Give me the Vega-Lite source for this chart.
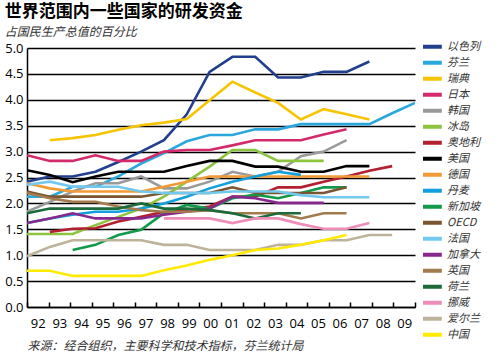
{
"$schema": "https://vega.github.io/schema/vega-lite/v6.json",
"width": 388, "height": 259,
"autosize": {"type": "none"},
"padding": {"left": 27, "top": 48, "right": 85, "bottom": 49},
"background": "white",
"title": {"text": "世界范围内一些国家的研发资金", "subtitle": "占国民生产总值的百分比", "anchor": "start", "frame": "bounds", "font": "Noto Sans CJK SC", "fontSize": 17, "fontWeight": "bold", "color": "black", "subtitleFont": "Noto Sans CJK SC", "subtitleFontSize": 12, "subtitleFontStyle": "italic", "subtitleColor": "#333", "subtitlePadding": 6, "offset": 0},
"config": {"view": {"stroke": null}},
"layer": [
{
"data": {"values": [
{"country":"以色列","year":1992,"value":2.42},{"country":"以色列","year":1993,"value":2.52},{"country":"以色列","year":1994,"value":2.52},{"country":"以色列","year":1995,"value":2.61},{"country":"以色列","year":1996,"value":2.8},{"country":"以色列","year":1997,"value":3.0},{"country":"以色列","year":1998,"value":3.22},{"country":"以色列","year":1999,"value":3.72},{"country":"以色列","year":2000,"value":4.54},{"country":"以色列","year":2001,"value":4.83},{"country":"以色列","year":2002,"value":4.83},{"country":"以色列","year":2003,"value":4.43},{"country":"以色列","year":2004,"value":4.43},{"country":"以色列","year":2005,"value":4.54},{"country":"以色列","year":2006,"value":4.54},{"country":"以色列","year":2007,"value":4.74},
{"country":"芬兰","year":1992,"value":2.13},{"country":"芬兰","year":1993,"value":2.13},{"country":"芬兰","year":1994,"value":2.32},{"country":"芬兰","year":1995,"value":2.32},{"country":"芬兰","year":1996,"value":2.52},{"country":"芬兰","year":1997,"value":2.77},{"country":"芬兰","year":1998,"value":2.97},{"country":"芬兰","year":1999,"value":3.2},{"country":"芬兰","year":2000,"value":3.32},{"country":"芬兰","year":2001,"value":3.32},{"country":"芬兰","year":2002,"value":3.43},{"country":"芬兰","year":2003,"value":3.43},{"country":"芬兰","year":2004,"value":3.53},{"country":"芬兰","year":2005,"value":3.53},{"country":"芬兰","year":2006,"value":3.53},{"country":"芬兰","year":2007,"value":3.53},{"country":"芬兰","year":2008,"value":3.74},{"country":"芬兰","year":2009,"value":3.94},
{"country":"瑞典","year":1993,"value":3.22},{"country":"瑞典","year":1994,"value":3.26},{"country":"瑞典","year":1995,"value":3.32},{"country":"瑞典","year":1996,"value":3.42},{"country":"瑞典","year":1997,"value":3.51},{"country":"瑞典","year":1998,"value":3.56},{"country":"瑞典","year":1999,"value":3.63},{"country":"瑞典","year":2000,"value":3.99},{"country":"瑞典","year":2001,"value":4.35},{"country":"瑞典","year":2002,"value":4.14},{"country":"瑞典","year":2003,"value":3.94},{"country":"瑞典","year":2004,"value":3.62},{"country":"瑞典","year":2005,"value":3.82},{"country":"瑞典","year":2006,"value":3.72},{"country":"瑞典","year":2007,"value":3.62},
{"country":"日本","year":1992,"value":2.93},{"country":"日本","year":1993,"value":2.82},{"country":"日本","year":1994,"value":2.82},{"country":"日本","year":1995,"value":2.93},{"country":"日本","year":1996,"value":2.82},{"country":"日本","year":1997,"value":2.82},{"country":"日本","year":1998,"value":3.0},{"country":"日本","year":1999,"value":3.03},{"country":"日本","year":2000,"value":3.03},{"country":"日本","year":2001,"value":3.12},{"country":"日本","year":2002,"value":3.22},{"country":"日本","year":2003,"value":3.22},{"country":"日本","year":2004,"value":3.22},{"country":"日本","year":2005,"value":3.33},{"country":"日本","year":2006,"value":3.43},
{"country":"韩国","year":1992,"value":1.84},{"country":"韩国","year":1993,"value":2.03},{"country":"韩国","year":1994,"value":2.23},{"country":"韩国","year":1995,"value":2.39},{"country":"韩国","year":1996,"value":2.39},{"country":"韩国","year":1997,"value":2.52},{"country":"韩国","year":1998,"value":2.29},{"country":"韩国","year":1999,"value":2.29},{"country":"韩国","year":2000,"value":2.42},{"country":"韩国","year":2001,"value":2.61},{"country":"韩国","year":2002,"value":2.52},{"country":"韩国","year":2003,"value":2.61},{"country":"韩国","year":2004,"value":2.91},{"country":"韩国","year":2005,"value":3.0},{"country":"韩国","year":2006,"value":3.22},
{"country":"冰岛","year":1992,"value":1.41},{"country":"冰岛","year":1993,"value":1.41},{"country":"冰岛","year":1994,"value":1.41},{"country":"冰岛","year":1995,"value":1.58},{"country":"冰岛","year":1996,"value":1.74},{"country":"冰岛","year":1997,"value":1.9},{"country":"冰岛","year":1998,"value":2.13},{"country":"冰岛","year":1999,"value":2.42},{"country":"冰岛","year":2000,"value":2.71},{"country":"冰岛","year":2001,"value":3.03},{"country":"冰岛","year":2002,"value":3.03},{"country":"冰岛","year":2003,"value":2.82},{"country":"冰岛","year":2004,"value":2.82},{"country":"冰岛","year":2005,"value":2.82},
{"country":"奥地利","year":1993,"value":1.45},{"country":"奥地利","year":1994,"value":1.51},{"country":"奥地利","year":1995,"value":1.52},{"country":"奥地利","year":1996,"value":1.65},{"country":"奥地利","year":1997,"value":1.74},{"country":"奥地利","year":1998,"value":1.84},{"country":"奥地利","year":1999,"value":1.87},{"country":"奥地利","year":2000,"value":1.94},{"country":"奥地利","year":2001,"value":2.13},{"country":"奥地利","year":2002,"value":2.13},{"country":"奥地利","year":2003,"value":2.31},{"country":"奥地利","year":2004,"value":2.31},{"country":"奥地利","year":2005,"value":2.42},{"country":"奥地利","year":2006,"value":2.52},{"country":"奥地利","year":2007,"value":2.63},{"country":"奥地利","year":2008,"value":2.72},
{"country":"美国","year":1992,"value":2.64},{"country":"美国","year":1993,"value":2.55},{"country":"美国","year":1994,"value":2.41},{"country":"美国","year":1995,"value":2.52},{"country":"美国","year":1996,"value":2.61},{"country":"美国","year":1997,"value":2.61},{"country":"美国","year":1998,"value":2.61},{"country":"美国","year":1999,"value":2.72},{"country":"美国","year":2000,"value":2.82},{"country":"美国","year":2001,"value":2.82},{"country":"美国","year":2002,"value":2.71},{"country":"美国","year":2003,"value":2.71},{"country":"美国","year":2004,"value":2.61},{"country":"美国","year":2005,"value":2.61},{"country":"美国","year":2006,"value":2.72},{"country":"美国","year":2007,"value":2.72},
{"country":"德国","year":1992,"value":2.39},{"country":"德国","year":1993,"value":2.29},{"country":"德国","year":1994,"value":2.23},{"country":"德国","year":1995,"value":2.23},{"country":"德国","year":1996,"value":2.23},{"country":"德国","year":1997,"value":2.23},{"country":"德国","year":1998,"value":2.32},{"country":"德国","year":1999,"value":2.42},{"country":"德国","year":2000,"value":2.52},{"country":"德国","year":2001,"value":2.52},{"country":"德国","year":2002,"value":2.52},{"country":"德国","year":2003,"value":2.52},{"country":"德国","year":2004,"value":2.52},{"country":"德国","year":2005,"value":2.52},{"country":"德国","year":2006,"value":2.52},{"country":"德国","year":2007,"value":2.52},
{"country":"丹麦","year":1992,"value":1.62},{"country":"丹麦","year":1993,"value":1.71},{"country":"丹麦","year":1994,"value":1.78},{"country":"丹麦","year":1995,"value":1.84},{"country":"丹麦","year":1996,"value":1.84},{"country":"丹麦","year":1997,"value":1.9},{"country":"丹麦","year":1998,"value":2.0},{"country":"丹麦","year":1999,"value":2.13},{"country":"丹麦","year":2000,"value":2.29},{"country":"丹麦","year":2001,"value":2.42},{"country":"丹麦","year":2002,"value":2.52},{"country":"丹麦","year":2003,"value":2.61},{"country":"丹麦","year":2004,"value":2.55},
{"country":"新加坡","year":1994,"value":1.1},{"country":"新加坡","year":1995,"value":1.2},{"country":"新加坡","year":1996,"value":1.39},{"country":"新加坡","year":1997,"value":1.49},{"country":"新加坡","year":1998,"value":1.81},{"country":"新加坡","year":1999,"value":1.97},{"country":"新加坡","year":2000,"value":1.9},{"country":"新加坡","year":2001,"value":2.1},{"country":"新加坡","year":2002,"value":2.17},{"country":"新加坡","year":2003,"value":2.1},{"country":"新加坡","year":2004,"value":2.2},{"country":"新加坡","year":2005,"value":2.31},{"country":"新加坡","year":2006,"value":2.31},
{"country":"OECD","year":1992,"value":2.23},{"country":"OECD","year":1993,"value":2.13},{"country":"OECD","year":1994,"value":2.13},{"country":"OECD","year":1995,"value":2.13},{"country":"OECD","year":1996,"value":2.13},{"country":"OECD","year":1997,"value":2.13},{"country":"OECD","year":1998,"value":2.2},{"country":"OECD","year":1999,"value":2.2},{"country":"OECD","year":2000,"value":2.2},{"country":"OECD","year":2001,"value":2.31},{"country":"OECD","year":2002,"value":2.2},{"country":"OECD","year":2003,"value":2.2},{"country":"OECD","year":2004,"value":2.2},{"country":"OECD","year":2005,"value":2.2},{"country":"OECD","year":2006,"value":2.31},
{"country":"法国","year":1992,"value":2.36},{"country":"法国","year":1993,"value":2.42},{"country":"法国","year":1994,"value":2.32},{"country":"法国","year":1995,"value":2.32},{"country":"法国","year":1996,"value":2.32},{"country":"法国","year":1997,"value":2.23},{"country":"法国","year":1998,"value":2.2},{"country":"法国","year":1999,"value":2.2},{"country":"法国","year":2000,"value":2.2},{"country":"法国","year":2001,"value":2.23},{"country":"法国","year":2002,"value":2.23},{"country":"法国","year":2003,"value":2.23},{"country":"法国","year":2004,"value":2.16},{"country":"法国","year":2005,"value":2.12},{"country":"法国","year":2006,"value":2.12},{"country":"法国","year":2007,"value":2.12},
{"country":"加拿大","year":1992,"value":1.62},{"country":"加拿大","year":1993,"value":1.71},{"country":"加拿大","year":1994,"value":1.81},{"country":"加拿大","year":1995,"value":1.71},{"country":"加拿大","year":1996,"value":1.71},{"country":"加拿大","year":1997,"value":1.71},{"country":"加拿大","year":1998,"value":1.78},{"country":"加拿大","year":1999,"value":1.84},{"country":"加拿大","year":2000,"value":1.9},{"country":"加拿大","year":2001,"value":2.13},{"country":"加拿大","year":2002,"value":2.1},{"country":"加拿大","year":2003,"value":2.01},{"country":"加拿大","year":2004,"value":2.01},{"country":"加拿大","year":2005,"value":2.01},
{"country":"英国","year":1992,"value":2.2},{"country":"英国","year":1993,"value":2.1},{"country":"英国","year":1994,"value":2.03},{"country":"英国","year":1995,"value":2.03},{"country":"英国","year":1996,"value":1.94},{"country":"英国","year":1997,"value":1.87},{"country":"英国","year":1998,"value":1.84},{"country":"英国","year":1999,"value":1.84},{"country":"英国","year":2000,"value":1.87},{"country":"英国","year":2001,"value":1.81},{"country":"英国","year":2002,"value":1.81},{"country":"英国","year":2003,"value":1.81},{"country":"英国","year":2004,"value":1.71},{"country":"英国","year":2005,"value":1.81},{"country":"英国","year":2006,"value":1.81},
{"country":"荷兰","year":1992,"value":1.81},{"country":"荷兰","year":1993,"value":1.9},{"country":"荷兰","year":1994,"value":1.9},{"country":"荷兰","year":1995,"value":1.9},{"country":"荷兰","year":1996,"value":1.9},{"country":"荷兰","year":1997,"value":2.0},{"country":"荷兰","year":1998,"value":1.9},{"country":"荷兰","year":1999,"value":1.9},{"country":"荷兰","year":2000,"value":1.87},{"country":"荷兰","year":2001,"value":1.81},{"country":"荷兰","year":2002,"value":1.71},{"country":"荷兰","year":2003,"value":1.81},{"country":"荷兰","year":2004,"value":1.81},
{"country":"挪威","year":1998,"value":1.71},{"country":"挪威","year":1999,"value":1.71},{"country":"挪威","year":2000,"value":1.71},{"country":"挪威","year":2001,"value":1.62},{"country":"挪威","year":2002,"value":1.71},{"country":"挪威","year":2003,"value":1.71},{"country":"挪威","year":2004,"value":1.6},{"country":"挪威","year":2005,"value":1.51},{"country":"挪威","year":2006,"value":1.51},{"country":"挪威","year":2007,"value":1.62},
{"country":"爱尔兰","year":1992,"value":0.98},{"country":"爱尔兰","year":1993,"value":1.16},{"country":"爱尔兰","year":1994,"value":1.29},{"country":"爱尔兰","year":1995,"value":1.29},{"country":"爱尔兰","year":1996,"value":1.29},{"country":"爱尔兰","year":1997,"value":1.29},{"country":"爱尔兰","year":1998,"value":1.2},{"country":"爱尔兰","year":1999,"value":1.2},{"country":"爱尔兰","year":2000,"value":1.1},{"country":"爱尔兰","year":2001,"value":1.1},{"country":"爱尔兰","year":2002,"value":1.1},{"country":"爱尔兰","year":2003,"value":1.2},{"country":"爱尔兰","year":2004,"value":1.2},{"country":"爱尔兰","year":2005,"value":1.29},{"country":"爱尔兰","year":2006,"value":1.29},{"country":"爱尔兰","year":2007,"value":1.39},{"country":"爱尔兰","year":2008,"value":1.39},
{"country":"中国","year":1992,"value":0.7},{"country":"中国","year":1993,"value":0.7},{"country":"中国","year":1994,"value":0.6},{"country":"中国","year":1995,"value":0.6},{"country":"中国","year":1996,"value":0.6},{"country":"中国","year":1997,"value":0.6},{"country":"中国","year":1998,"value":0.71},{"country":"中国","year":1999,"value":0.8},{"country":"中国","year":2000,"value":0.91},{"country":"中国","year":2001,"value":1.0},{"country":"中国","year":2002,"value":1.1},{"country":"中国","year":2003,"value":1.13},{"country":"中国","year":2004,"value":1.2},{"country":"中国","year":2005,"value":1.29},{"country":"中国","year":2006,"value":1.39}
]},
"mark": {"type": "line", "strokeWidth": 2.6, "clip": true},
"encoding": {
"x": {"field": "year", "type": "quantitative", "scale": {"domain": [1992, 2009], "nice": false, "zero": false}, "axis": null},
"y": {"field": "value", "type": "quantitative", "scale": {"domain": [0, 5], "nice": false}, "axis": {"values": [0,0.5,1,1.5,2,2.5,3,3.5,4,4.5,5], "format": ".1f", "title": null, "grid": true, "gridColor": "black", "gridWidth": 1.3, "gridOpacity": 1, "ticks": false, "domain": true, "domainColor": "black", "domainWidth": 1.5, "labelFont": "Open Sans", "labelFontSize": 13, "labelColor": "black", "labelPadding": 4}},
"color": {"field": "country", "type": "nominal", "scale": {"domain": ["以色列","芬兰","瑞典","日本","韩国","冰岛","奥地利","美国","德国","丹麦","新加坡","OECD","法国","加拿大","英国","荷兰","挪威","爱尔兰","中国"], "range": ["#223F8E","#2AA7DF","#F6C400","#D42A6B","#9A9A9A","#8CC43F","#B3202F","#000000","#F29A35","#119FDD","#109A4A","#7A5630","#73C8EE","#88288D","#A37A4C","#1A6A3A","#EE8DBA","#BDB39B","#FFEA00"]},
"legend": {"title": null, "orient": "none", "legendX": 396, "legendY": -9, "symbolType": "M-1.4,0H1.4", "symbolStrokeWidth": 4, "symbolSize": 196, "labelFont": "Noto Sans CJK SC", "labelFontSize": 11, "labelFontStyle": "italic", "labelColor": "#333", "labelOffset": 6, "rowPadding": 0, "clipHeight": 15.5}}
}
},
{
"data": {"values": [{"label":"92"},{"label":"93"},{"label":"94"},{"label":"95"},{"label":"96"},{"label":"97"},{"label":"98"},{"label":"99"},{"label":"00"},{"label":"01"},{"label":"02"},{"label":"03"},{"label":"04"},{"label":"05"},{"label":"06"},{"label":"07"},{"label":"08"},{"label":"09"}]},
"mark": {"type": "point", "opacity": 0},
"encoding": {
"x": {"field": "label", "type": "ordinal", "sort": null, "scale": {"paddingInner": 0, "paddingOuter": 0}, "axis": {"orient": "bottom", "title": "来源：经合组织，主要科学和技术指标，芬兰统计局", "titleFont": "Noto Sans CJK SC", "titleFontSize": 12, "titleFontStyle": "italic", "titleFontWeight": "normal", "titleColor": "#333", "titleAnchor": "start", "titlePadding": 10, "tickBand": "extent", "tickSize": -5, "tickColor": "black", "tickWidth": 1.5, "domainColor": "black", "domainWidth": 1.5, "labelAngle": 0, "labelFont": "Open Sans", "labelFontSize": 13, "labelColor": "black", "labelPadding": 15, "grid": false}}
}
}
],
"resolve": {"scale": {"x": "independent"}}
}
